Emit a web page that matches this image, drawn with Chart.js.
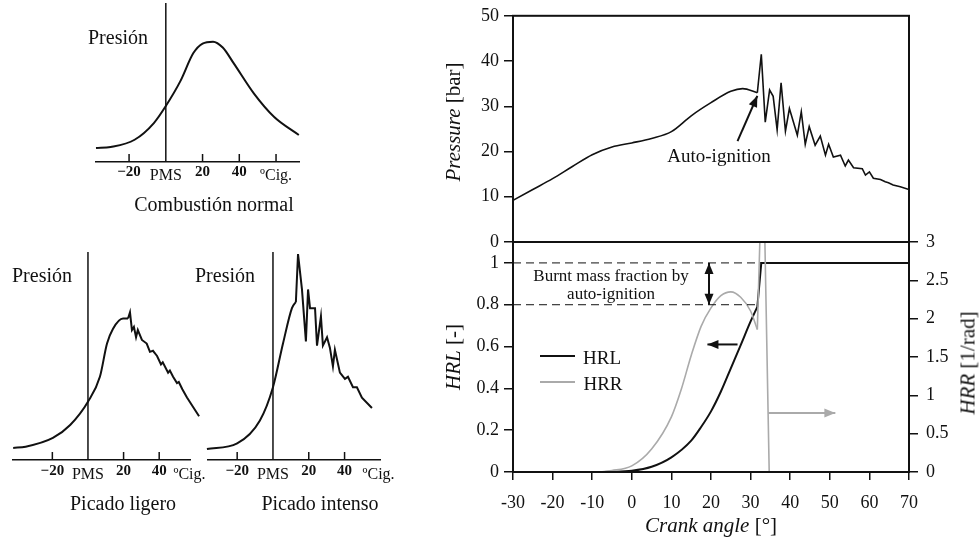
<!DOCTYPE html>
<html>
<head>
<meta charset="utf-8">
<script src="https://cdn.jsdelivr.net/npm/chart.js@4.4.1/dist/chart.umd.min.js"></script>
<style>
  body { margin: 0; background: #fff; }
  #wrap { position: relative; width: 979px; height: 540px; overflow: hidden;
          font-family: "Liberation Serif", "Times New Roman", serif; color: #111; }
  canvas { position: absolute; }
  .t { position: absolute; transform: translate(-50%, -50%); white-space: nowrap; line-height: 1; }
  .r { transform: translate(-50%, -50%) rotate(-90deg); }
  .sw { position: absolute; height: 2px; }
</style>
</head>
<body>
<div id="wrap">
  <canvas id="cNormal" width="240" height="230" style="left:80px;top:0"></canvas>
  <canvas id="cLigero" width="215" height="310" style="left:0;top:230px"></canvas>
  <canvas id="cIntenso" width="220" height="310" style="left:190px;top:230px"></canvas>
  <canvas id="cPress" width="559" height="280" style="left:420px;top:0"></canvas>
  <canvas id="cHeat" width="559" height="340" style="left:420px;top:200px"></canvas>

  <div class="t" style="left:118px;top:37px;font-size:20px">Presión</div>
  <div class="t" style="left:214px;top:204px;font-size:20px">Combustión normal</div>
  <div class="t" style="left:42px;top:275px;font-size:20px">Presión</div>
  <div class="t" style="left:123px;top:503px;font-size:20px">Picado ligero</div>
  <div class="t" style="left:225px;top:275px;font-size:20px">Presión</div>
  <div class="t" style="left:320px;top:503px;font-size:20px">Picado intenso</div>

  <div class="t r" style="left:453px;top:122px;font-size:21px"><i>Pressure</i> [bar]</div>
  <div class="t r" style="left:453px;top:357px;font-size:21px"><i>HRL</i> [-]</div>
  <div class="t r" style="left:968px;top:363px;font-size:21px"><i>HRR</i> [1/rad]</div>
  <div class="t" style="left:711px;top:525px;font-size:21px"><i>Crank angle</i> [°]</div>
  <div class="t" style="left:719px;top:155px;font-size:19px">Auto-ignition</div>
  <div class="t" style="left:611px;top:275px;font-size:17px">Burnt mass fraction by</div>
  <div class="t" style="left:611px;top:293px;font-size:17px">auto-ignition</div>

  <div class="sw" style="left:540px;top:355px;width:35px;background:#111"></div>
  <div class="t" style="left:602px;top:357px;font-size:19px">HRL</div>
  <div class="sw" style="left:540px;top:381px;width:35px;background:#aaa"></div>
  <div class="t" style="left:603px;top:383px;font-size:19px">HRR</div>
</div>
<script>
// ---- left sketches (pressure in arbitrary units 0..1) ----
const normalAngle = [-38, -30, -17, -6.5, 0, 8, 15, 20, 25.7, 31, 37, 48, 59, 72.4];
const normalPres  = [0.088, 0.095, 0.14, 0.245, 0.352, 0.51, 0.685, 0.745, 0.757, 0.72, 0.62, 0.43, 0.283, 0.17];

const ligeroAngle = [-42, -35, -19.7, -10, 0, 6.7, 10.7, 14, 19.7, 22.5, 23.6, 24.7, 25.8, 27, 28, 30.3, 33, 34.8,
                     36.5, 38.8, 41, 42, 45, 46, 47.8, 50, 51, 53, 55.6, 62.4];
const ligeroPres  = [0.058, 0.064, 0.106, 0.168, 0.28, 0.4, 0.56, 0.63, 0.68, 0.68, 0.71, 0.625, 0.64, 0.59, 0.625, 0.577, 0.56, 0.52,
                     0.525, 0.5, 0.46, 0.47, 0.42, 0.43, 0.4, 0.37, 0.375, 0.34, 0.3, 0.21];
const ligeroKnock = 9;     // index where the ripple starts

const intensoAngle = [-36.9, -20, -7.3, 0, 5.6, 10.6, 12.8, 14, 16.2, 18.4, 19.6, 20.7, 23.5, 24.6, 26.8, 27.9, 30.2, 31.8,
                      33.5, 34.6, 37.4, 40.2, 41.9, 44.7, 46.9, 49.7, 55.3];
const intensoPres  = [0.053, 0.08, 0.19, 0.35, 0.56, 0.73, 0.76, 0.99, 0.82, 0.57, 0.82, 0.73, 0.73, 0.55, 0.69, 0.55, 0.59, 0.54,
                      0.45, 0.53, 0.42, 0.39, 0.40, 0.35, 0.35, 0.30, 0.25];
const intensoKnock = 6;

const sketchTicks  = [-20, 0, 20, 40, 60];
const sketchLabels = ['−20', 'PMS', '20', '40', 'ºCig.'];
const knockTicks   = [-20, 0, 20, 40, 57];
const knockLabels  = ['−20', 'PMS', '20', '40', 'ºCig.'];

// ---- right panels ----
const crankP = [-30, -25, -20, -15, -10, -5, 0, 5, 10, 15, 20, 25, 28, 31.7, 32.7, 33.7, 34.8, 35.7, 36.7, 37.7, 38.8, 39.8,
                41.8, 42.8, 43.8, 44.8, 46.3, 47.6, 48.9, 49.7, 50.9, 52.7, 53.9, 54.7, 56, 58.2, 59, 60, 61, 62.8,
                64, 64.8, 66, 67.8, 70];
const pressure = [9.2, 11.6, 14.0, 16.7, 19.3, 21.0, 21.9, 22.9, 24.4, 27.9, 30.8, 33.3, 33.9, 33.0, 41.5, 26.5, 33.6, 32.2, 24.8, 35.2, 24.5, 29.5,
                  23.6, 28.8, 21.6, 25.5, 21.4, 23.4, 19.2, 21.6, 18.8, 19.2, 16.8, 18.1, 16.4, 16.2, 14.8, 15.5, 14.1, 13.8,
                  13.3, 13.1, 12.6, 12.2, 11.6];

const crankHRL = [-30, -10, -5, 0, 5, 10, 15, 17.5, 20, 22.5, 25, 27.5, 30, 31.7, 32.7, 70];
const hrl      = [0, 0, 0.001, 0.006, 0.025, 0.07, 0.15, 0.215, 0.29, 0.385, 0.496, 0.607, 0.72, 0.79, 1.0, 1.0];

const crankHRR = [-30, -10, -5, 0, 5, 10, 12.5, 15, 17.5, 20, 22.5, 25, 27.5, 30, 31.7, 32.5, 33.5, 34.7, 70];
const hrr      = [0, 0, 0.02, 0.08, 0.3, 0.72, 1.08, 1.52, 1.9, 2.14, 2.3, 2.35, 2.28, 2.1, 1.86, 3.3, 3.3, 0, 0];

const ignition   = 31.7;   // auto-ignition onset [deg]
const burntLevel = [0.8, 1.0];
const burntEnd   = [31.7, 32.7];

const crankTicks    = [-30, -20, -10, 0, 10, 20, 30, 40, 50, 60, 70];
const pressureTicks = [0, 10, 20, 30, 40, 50];
const hrlTicks      = [0, 0.2, 0.4, 0.6, 0.8, 1];
const hrrTicks      = [0, 0.5, 1, 1.5, 2, 2.5, 3];

const xy = (xs, ys) => ys.map((y, i) => ({ x: xs[i], y: y }));
const serif = 'Liberation Serif';
const ink = '#111';

// smooth part up to index k, straight zig-zag after it
function twoPart(xs, ys, k, style) {
  return [
    Object.assign({ data: xy(xs.slice(0, k + 1), ys.slice(0, k + 1)), pointRadius: 0,
                    cubicInterpolationMode: 'monotone' }, style),
    Object.assign({ data: xy(xs.slice(k), ys.slice(k)), pointRadius: 0, tension: 0 }, style)
  ];
}

// draws short upward tick marks on the sketch axes
const innerTicks = {
  id: 'innerTicks',
  afterDraw(chart, args, opts) {
    const ctx = chart.ctx, s = chart.scales.x, y0 = chart.chartArea.bottom;
    ctx.save();
    ctx.strokeStyle = ink; ctx.lineWidth = 1.5;
    (opts.values || []).forEach(v => {
      const px = s.getPixelForValue(v);
      ctx.beginPath(); ctx.moveTo(px, y0); ctx.lineTo(px, y0 - 8); ctx.stroke();
    });
    ctx.restore();
  }
};

const boxPlugin = {
  id: 'box',
  afterDraw(chart) {
    const a = chart.chartArea, ctx = chart.ctx;
    ctx.save();
    ctx.strokeStyle = ink; ctx.lineWidth = 2;
    ctx.strokeRect(a.left, a.top, a.right - a.left, a.bottom - a.top);
    ctx.restore();
  }
};

function head(ctx, x1, y1, x2, y2) {
  const ang = Math.atan2(y2 - y1, x2 - x1), L = 11, W = 4.5;
  ctx.beginPath();
  ctx.moveTo(x2, y2);
  ctx.lineTo(x2 - L * Math.cos(ang) + W * Math.sin(ang), y2 - L * Math.sin(ang) - W * Math.cos(ang));
  ctx.lineTo(x2 - L * Math.cos(ang) - W * Math.sin(ang), y2 - L * Math.sin(ang) + W * Math.cos(ang));
  ctx.closePath(); ctx.fill();
}

const arrowPlugin = {
  id: 'arrows',
  afterDatasetsDraw(chart, args, opts) {
    const ctx = chart.ctx, xs = chart.scales.x;
    (opts.items || []).forEach(a => {
      const ys = chart.scales[a.axis || 'y'];
      const x1 = xs.getPixelForValue(a.from[0]), y1 = ys.getPixelForValue(a.from[1]);
      const x2 = xs.getPixelForValue(a.to[0]), y2 = ys.getPixelForValue(a.to[1]);
      ctx.save();
      ctx.strokeStyle = a.color; ctx.fillStyle = a.color; ctx.lineWidth = 2;
      ctx.beginPath(); ctx.moveTo(x1, y1); ctx.lineTo(x2, y2); ctx.stroke();
      head(ctx, x1, y1, x2, y2);
      if (a.both) head(ctx, x2, y2, x1, y1);
      ctx.restore();
    });
  }
};

function sketch(id, lines, xmin, xmax, pad, tickVals, tickLbls, marks, axisH, lblPad) {
  lines.push({ data: [{ x: 0, y: 0 }, { x: 0, y: 1 }], borderColor: ink, borderWidth: 1.5, pointRadius: 0 });
  const numFont = { family: serif, size: 15, weight: 'bold', lineHeight: 1.2 };
  const wordFont = { family: serif, size: 16, lineHeight: 1.65 };
  new Chart(document.getElementById(id), {
    type: 'line',
    data: { datasets: lines },
    options: {
      responsive: false, animation: false, events: [],
      layout: { padding: pad },
      plugins: { legend: { display: false }, tooltip: { enabled: false },
                 innerTicks: { values: marks } },
      scales: {
        x: { type: 'linear', min: xmin, max: xmax,
             grid: { display: false, drawTicks: false },
             border: { display: true, color: ink, width: 1.5 },
             afterBuildTicks: s => { s.ticks = tickVals.map(v => ({ value: v })); },
             afterFit: s => { s.height = axisH; },
             ticks: { color: ink, padding: lblPad, maxRotation: 0, autoSkip: false,
                      font: c => {
                        if (!c || !c.tick) return numFont;
                        const lbl = tickLbls[tickVals.indexOf(c.tick.value)] || '';
                        return /\d/.test(lbl) ? numFont : wordFont;
                      },
                      callback: v => tickLbls[tickVals.indexOf(v)] } },
        y: { display: false, min: 0, max: 1 }
      }
    },
    plugins: [innerTicks]
  });
}

const sketchStyle = { borderColor: ink, borderWidth: 2, clip: false };

sketch('cNormal', [Object.assign({ data: xy(normalAngle, normalPres), pointRadius: 0, cubicInterpolationMode: 'monotone' }, sketchStyle)],
       -38, 72.5, { left: 16, right: 21, top: 3, bottom: 0 },
       sketchTicks, sketchLabels, [-20, 20, 40, 60], 68, 1);
sketch('cLigero', twoPart(ligeroAngle, ligeroPres, ligeroKnock, sketchStyle),
       -42.1, 57.3, { left: 13, right: 25, top: 22, bottom: 0 },
       knockTicks, knockLabels, [-20, 20, 40], 80, 2);
sketch('cIntenso', twoPart(intensoAngle, intensoPres, intensoKnock, sketchStyle),
       -36.3, 59.8, { left: 18, right: 30, top: 22, bottom: 0 },
       knockTicks.slice(0, 4).concat([59]), knockLabels, [-20, 20, 40], 80, 2);

const tickFont = { family: serif, size: 18 };
const plain = v => String(v);

new Chart(document.getElementById('cPress'), {
  type: 'line',
  data: { datasets: twoPart(crankP, pressure, crankP.indexOf(ignition), { borderColor: ink, borderWidth: 1.6 }) },
  options: {
    responsive: false, animation: false, events: [],
    layout: { padding: { top: 13, right: 70, left: 0, bottom: 0 } },
    plugins: { legend: { display: false }, tooltip: { enabled: false },
               arrows: { items: [ { from: [26.7, 22.3], to: [31.7, 32.3], color: ink } ] } },
    scales: {
      x: { type: 'linear', min: -30, max: 70, ticks: { display: false },
           grid: { display: false, drawTicks: false }, border: { display: false },
           afterFit: s => { s.height = 38; } },
      y: { min: 0, max: 50,
           afterBuildTicks: s => { s.ticks = pressureTicks.map(v => ({ value: v })); },
           afterFit: s => { s.width = 93; },
           grid: { drawOnChartArea: false, tickLength: 9, color: ink, lineWidth: 1.5 },
           border: { color: ink, width: 2 },
           ticks: { font: tickFont, color: ink, padding: 5, callback: plain } }
    }
  },
  plugins: [boxPlugin, arrowPlugin]
});

new Chart(document.getElementById('cHeat'), {
  type: 'line',
  data: { datasets: [
    { data: xy([-30, burntEnd[1]], [burntLevel[1], burntLevel[1]]), borderColor: ink, borderWidth: 1,
      borderDash: [8, 5], pointRadius: 0, yAxisID: 'y' },
    { data: xy([-30, burntEnd[0]], [burntLevel[0], burntLevel[0]]), borderColor: ink, borderWidth: 1,
      borderDash: [8, 5], pointRadius: 0, yAxisID: 'y' }
  ].concat(
    twoPart(crankHRR, hrr, crankHRR.indexOf(ignition), { borderColor: '#aaa', borderWidth: 1.6, yAxisID: 'y2' }),
    twoPart(crankHRL, hrl, crankHRL.indexOf(ignition), { borderColor: ink, borderWidth: 2, yAxisID: 'y' })
  ) },
  options: {
    responsive: false, animation: false, events: [],
    layout: { padding: { top: 42, right: 0, left: 0, bottom: 0 } },
    plugins: { legend: { display: false }, tooltip: { enabled: false },
               arrows: { items: [
                 { from: [19.5, 0.8], to: [19.5, 1.0], color: ink, both: true },
                 { from: [26.7, 0.61], to: [19.1, 0.61], color: ink },
                 { from: [34.5, 0.77], to: [51.4, 0.77], color: '#aaa', axis: 'y2' }
               ] } },
    scales: {
      x: { type: 'linear', min: -30, max: 70,
           afterBuildTicks: s => { s.ticks = crankTicks.map(v => ({ value: v })); },
           afterFit: s => { s.height = 68; },
           grid: { drawOnChartArea: false, tickLength: 8, color: ink, lineWidth: 1.5 },
           border: { color: ink, width: 2 },
           ticks: { font: tickFont, color: ink, padding: 12, maxRotation: 0, autoSkip: false, callback: plain } },
      y: { position: 'left', min: 0, max: 1.1,
           afterBuildTicks: s => { s.ticks = hrlTicks.map(v => ({ value: v })); },
           afterFit: s => { s.width = 93; },
           grid: { drawOnChartArea: false, tickLength: 9, color: ink, lineWidth: 1.5 },
           border: { color: ink, width: 2 },
           ticks: { font: tickFont, color: ink, padding: 5, callback: plain } },
      y2: { position: 'right', min: 0, max: 3,
            afterBuildTicks: s => { s.ticks = hrrTicks.map(v => ({ value: v })); },
            afterFit: s => { s.width = 70; },
            grid: { drawOnChartArea: false, tickLength: 9, color: ink, lineWidth: 1.5 },
            border: { color: ink, width: 2 },
            ticks: { font: tickFont, color: ink, padding: 8, callback: plain } }
    }
  },
  plugins: [boxPlugin, arrowPlugin]
});
</script>
</body>
</html>
